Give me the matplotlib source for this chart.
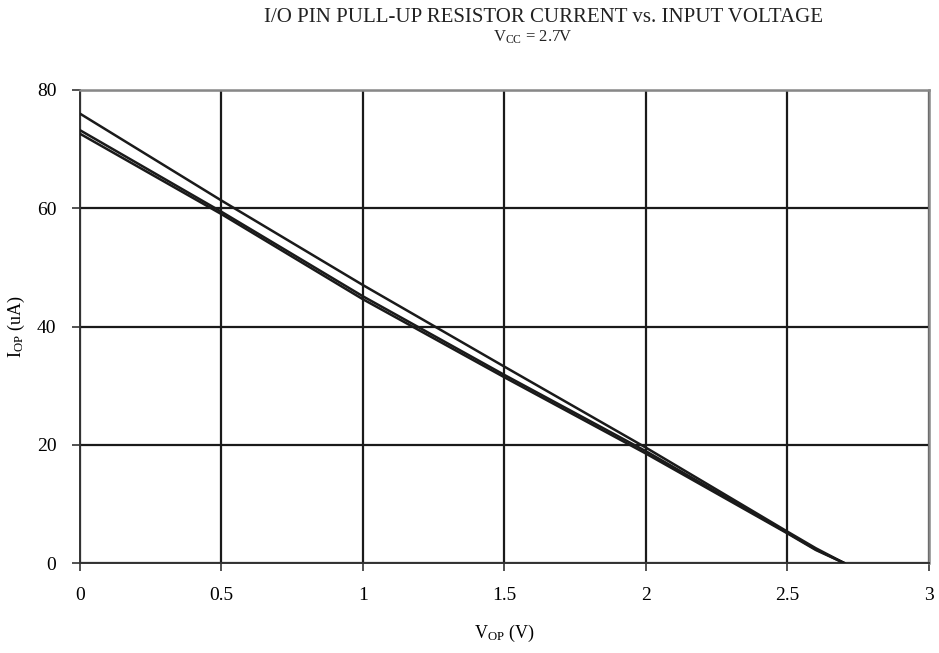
import numpy as np
import matplotlib
matplotlib.use("Agg")
from matplotlib import pyplot as plt

plt.rcParams['font.family'] = ['Liberation Serif', 'DejaVu Serif']

vop = [0, 0.5, 1.0, 1.5, 2.0, 2.5, 2.6, 2.7]
iop_a = [76.0, 61.3, 47.0, 33.2, 19.5, 5.3, 2.5, 0.0]
iop_b = [73.2, 59.4, 45.1, 31.8, 18.9, 5.1, 2.3, 0.0]
iop_c = [72.6, 59.0, 44.6, 31.4, 18.5, 5.0, 2.2, 0.0]

xticks = [0, 0.5, 1, 1.5, 2, 2.5, 3]
xticklabels = ["0", "0.5", "1", "1.5", "2", "2.5", "3"]
yticks = [0, 20, 40, 60, 80]

fig = plt.figure(figsize=(9.39, 6.53), dpi=100)
ax = fig.add_axes([80/939, 1-563/653, 849/939, 473/653])

for s in (iop_a, iop_b, iop_c):
    ax.plot(vop, s, color='#1a1a1a', lw=1.8, zorder=3)

ax.set_xlim(0, 3)
ax.set_ylim(0, 80)
ax.set_xticks(xticks)
ax.set_xticklabels(xticklabels)
ax.set_yticks(yticks)
ax.grid(True, color='#1a1a1a', lw=1.6)
ax.tick_params(direction='out', length=6, width=1.2, color='#333333',
               labelsize=14, pad=11)

for side in ('top', 'right'):
    ax.spines[side].set_color('#888888')
    ax.spines[side].set_linewidth(1.8)
for side in ('left', 'bottom'):
    ax.spines[side].set_color('#333333')
    ax.spines[side].set_linewidth(1.4)

ax.set_xlabel(r"$\mathregular{V_{OP}}$ (V)", fontsize=13, labelpad=14)
ax.set_ylabel(r"$\mathregular{I_{OP}}$ (uA)", fontsize=13)
ax.yaxis.set_label_coords(-0.062, 0.5)

fig.text(543/939, 1-17/653, "I/O PIN PULL-UP RESISTOR CURRENT vs. INPUT VOLTAGE",
         ha='center', va='center', fontsize=15, color='#222222')
fig.text(533/939, 1-37/653, r"$\mathregular{V_{CC}}$ = 2.7V",
         ha='center', va='center', fontsize=12, color='#222222')

fig.savefig("out.png", dpi=100)
